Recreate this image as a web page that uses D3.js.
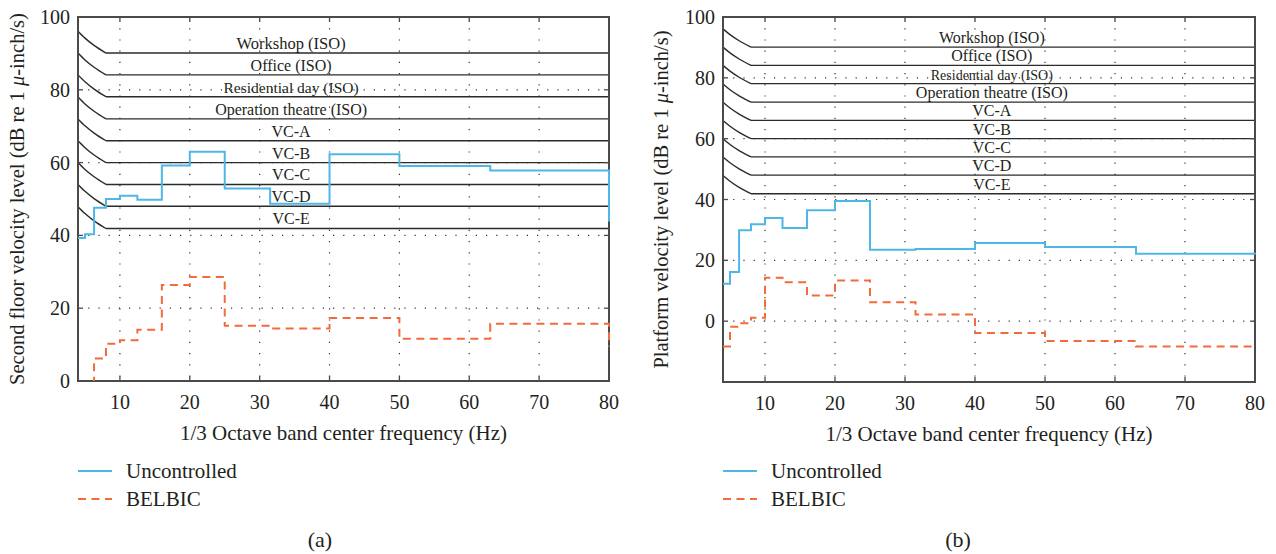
<!DOCTYPE html>
<html lang="en">
<head>
<meta charset="UTF-8">
<title>Velocity levels</title>
<style>
  body { margin: 0; background: #fff; }
</style>
</head>
<body>
<script src="https://d3js.org/d3.v7.min.js"></script>
<svg id="chart" width="1276" height="554" font-family="'Liberation Serif', 'Times New Roman', 'DejaVu Serif', serif" fill="#231f20"></svg>
<script>
// 1/3 octave band centre frequencies (Hz)
const bands = [4, 5, 6.3, 8, 10, 12.5, 16, 20, 25, 31.5, 40, 50, 63, 80];

// (a) second floor, dB re 1 micro-inch/s
const floorUncontrolled = [39.3, 40.3, 47.6, 50.0, 50.9, 49.8, 59.2, 63.0, 52.9, 48.7, 62.3, 59.1, 57.8, 43.8];
const floorBelbic = [-4, -2, 6.2, 10.2, 11.2, 14.1, 26.4, 28.6, 15.2, 14.4, 17.3, 11.6, 15.7, 9.4];

// (b) platform
const platformUncontrolled = [12.3, 16.2, 29.9, 31.9, 33.9, 30.6, 36.5, 39.5, 23.5, 23.7, 25.7, 24.4, 22.2, 22.0];
const platformBelbic = [-8.3, -1.8, -0.7, 1.1, 14.3, 12.8, 8.4, 13.4, 6.2, 2.2, -3.9, -6.5, -8.3, -8.3];

// vibration criteria (flat level above 8 Hz)
const criteriaNames = ["Workshop (ISO)", "Office (ISO)", "Residential day (ISO)", "Operation theatre (ISO)",
  "VC-A", "VC-B", "VC-C", "VC-D", "VC-E"];
const criteriaLevels = [90.1, 84.1, 78.1, 72.0, 66.0, 60.0, 54.0, 48.0, 41.9];
// how much each criterion curve rises below 8 Hz
const kneeFreqs = [4, 5, 6.3, 8];
const kneeRise = [6.0, 4.1, 2.1, 0];

const xTicks = [10, 20, 30, 40, 50, 60, 70, 80];
const yTicks = [0, 20, 40, 60, 80, 100];

const seriesNames = ["Uncontrolled", "BELBIC"];

const blue = "#4fb6e8";
const orange = "#f26b3a";

const svg = d3.select("#chart");

function drawPanel(p) {
  const x = d3.scaleLinear().domain([4, 80]).range([p.left, p.right]);
  const y = d3.scaleLinear().domain(p.yDomain).range([p.bottom, p.top]);
  const g = svg.append("g");

  g.append("clipPath").attr("id", p.id + "clip")
    .append("rect")
    .attr("x", p.left - 1).attr("y", p.top)
    .attr("width", p.right - p.left + 2).attr("height", p.bottom - p.top);

  // dotted grid
  g.append("g")
    .selectAll("line")
    .data(xTicks.filter(d => d < 80))
    .join("line")
    .attr("x1", d => x(d)).attr("x2", d => x(d))
    .attr("y1", p.top).attr("y2", p.bottom)
    .attr("stroke", "#333").attr("stroke-width", 1.2)
    .attr("stroke-dasharray", "1.2,10");
  g.append("g")
    .selectAll("line")
    .data(yTicks.filter(d => d > p.yDomain[0] && d < p.yDomain[1]))
    .join("line")
    .attr("x1", p.left).attr("x2", p.right)
    .attr("y1", d => y(d)).attr("y2", d => y(d))
    .attr("stroke", "#333").attr("stroke-width", 1.2)
    .attr("stroke-dasharray", "1.2,9");

  // criterion curves
  const knee = d3.line().x(d => x(d[0])).y(d => y(d[1])).curve(d3.curveMonotoneX);
  const crit = g.append("g").attr("fill", "none").attr("stroke", "#2b2b2b").attr("stroke-width", 1.4);
  criteriaLevels.forEach(level => {
    crit.append("path").attr("d", knee(kneeFreqs.map((f, i) => [f, level + kneeRise[i]])));
    crit.append("line")
      .attr("x1", x(8)).attr("x2", x(80))
      .attr("y1", y(level)).attr("y2", y(level));
  });
  g.append("g")
    .attr("text-anchor", "middle")
    .selectAll("text")
    .data(criteriaNames)
    .join("text")
    .attr("x", x(p.labelFreq))
    .attr("y", (d, i) => y(criteriaLevels[i]) - 4)
    .attr("font-size", (d, i) => (p.labelSizes && p.labelSizes[i]) || p.labelSize)
    .text(d => d);

  // inward ticks all round
  const tickLen = 5;
  const tk = g.append("g").attr("stroke", "#4a4a4a").attr("stroke-width", 1.3);
  xTicks.filter(d => d < 80).forEach(d => {
    tk.append("line").attr("x1", x(d)).attr("x2", x(d)).attr("y1", p.bottom).attr("y2", p.bottom - tickLen);
    tk.append("line").attr("x1", x(d)).attr("x2", x(d)).attr("y1", p.top).attr("y2", p.top + tickLen);
  });
  yTicks.filter(d => d > p.yDomain[0] && d < p.yDomain[1]).forEach(d => {
    tk.append("line").attr("x1", p.left).attr("x2", p.left + tickLen).attr("y1", y(d)).attr("y2", y(d));
    tk.append("line").attr("x1", p.right).attr("x2", p.right - tickLen).attr("y1", y(d)).attr("y2", y(d));
  });

  // frame
  g.append("rect")
    .attr("x", p.left).attr("y", p.top)
    .attr("width", p.right - p.left).attr("height", p.bottom - p.top)
    .attr("fill", "none").attr("stroke", "#4a4a4a").attr("stroke-width", 2);

  // data, on top of the frame
  const step = d3.line().x((d, i) => x(bands[i])).y(d => y(d)).curve(d3.curveStepAfter);
  const data = g.append("g").attr("clip-path", `url(#${p.id}clip)`).attr("fill", "none");
  data.append("path").attr("d", step(p.belbic))
    .attr("stroke", orange).attr("stroke-width", 2).attr("stroke-dasharray", "8,5.5");
  data.append("path").attr("d", step(p.uncontrolled))
    .attr("stroke", blue).attr("stroke-width", 2);

  // tick labels
  g.append("g").attr("font-size", 20).attr("text-anchor", "middle")
    .selectAll("text").data(xTicks).join("text")
    .attr("x", d => x(d)).attr("y", p.bottom + 28)
    .text(d => d);
  g.append("g").attr("font-size", 20).attr("text-anchor", "end")
    .selectAll("text").data(yTicks).join("text")
    .attr("x", p.left - 8).attr("y", d => y(d)).attr("dy", "0.35em")
    .text(d => d);

  // axis titles
  g.append("text")
    .attr("x", (p.left + p.right) / 2).attr("y", p.bottom + 59)
    .attr("text-anchor", "middle").attr("font-size", 21)
    .text("1/3 Octave band center frequency (Hz)");
  const yt = g.append("text")
    .attr("transform", `translate(${p.yTitleX},${(p.top + p.bottom) / 2}) rotate(-90)`)
    .attr("text-anchor", "middle").attr("font-size", 20.5);
  yt.append("tspan").text(p.yTitle + " (dB re 1 ");
  yt.append("tspan").attr("font-style", "italic").text("μ");
  yt.append("tspan").text("-inch/s)");

  // legend
  const lg = g.append("g").attr("font-size", 21);
  seriesNames.forEach((name, i) => {
    const ly = 471 + i * 28;
    lg.append("line")
      .attr("x1", p.left).attr("x2", p.left + 34).attr("y1", ly).attr("y2", ly)
      .attr("stroke", i === 0 ? blue : orange).attr("stroke-width", 2)
      .attr("stroke-dasharray", i === 0 ? null : "8,5.5");
    lg.append("text").attr("x", p.left + 48).attr("y", ly).attr("dy", "0.33em").text(name);
  });

  g.append("text")
    .attr("x", p.caption).attr("y", 547)
    .attr("text-anchor", "middle").attr("font-size", 22)
    .text(p.tag);
}

drawPanel({
  id: "a", left: 78, right: 609, top: 17, bottom: 381, yDomain: [0, 100],
  uncontrolled: floorUncontrolled, belbic: floorBelbic,
  labelFreq: 34.5, labelSize: 16, labelSizes: [16.5, null, 15.5],
  yTitle: "Second floor velocity level", yTitleX: 24, caption: 320, tag: "(a)"
});
drawPanel({
  id: "b", left: 723, right: 1255, top: 17, bottom: 382, yDomain: [-20, 100],
  uncontrolled: platformUncontrolled, belbic: platformBelbic,
  labelFreq: 42.4, labelSize: 16, labelSizes: [null, null, 14],
  yTitle: "Platform velocity level", yTitleX: 668, caption: 958, tag: "(b)"
});
</script>
</body>
</html>
